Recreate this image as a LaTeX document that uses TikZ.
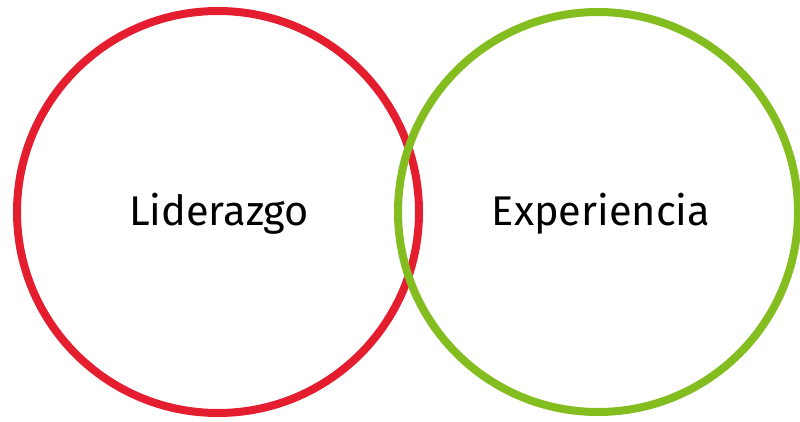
\documentclass[tikz,border=0pt]{standalone}
\usepackage{fontspec}
\setmainfont{Fira Sans}
\definecolor{redc}{HTML}{E41E2F}
\definecolor{greenc}{HTML}{84BD1F}
\begin{document}
\begin{tikzpicture}[x=1pt,y=-1pt,
  ring/.style={circle,draw,line width=8pt,minimum size=402pt,inner sep=0pt},
  lbl/.style={font=\fontsize{41.5}{50}\selectfont,text=black}]
\useasboundingbox (0,0) rectangle (800,422);
\node[ring,draw=redc] (lid) at (218,212) {};
\node[ring,draw=greenc,minimum size=400pt] (exp) at (598,212) {};
\node[lbl] (tl) at (219,214) {Liderazgo};
\node[lbl] (te) at (601,214) {Experiencia};
\end{tikzpicture}
\end{document}
